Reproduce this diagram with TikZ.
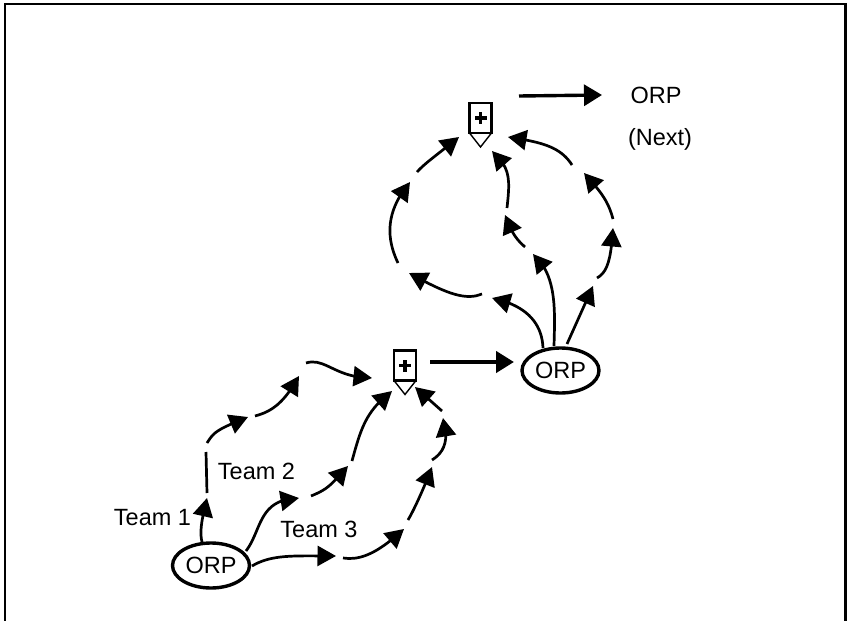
\documentclass[tikz,border=0pt]{standalone}
\usepackage{fontspec}
\setmainfont{Liberation Sans}
\usetikzlibrary{arrows.meta,bending}
\usetikzlibrary{shapes.geometric}
\tikzset{
  x=1pt,y=-1pt,
  flow/.style={line width=2.7pt,line cap=butt,-{Triangle[length=18.5pt,width=20pt]}},
  flowplain/.style={line width=2.7pt},
  bigflow/.style={line cap=butt,-{Triangle[length=18pt,width=21pt]}},
  orp/.style={draw,ellipse,line width=3.4pt,minimum width=77pt,minimum height=45pt,inner sep=0pt,font=\fontsize{23.5}{25}\selectfont},
  lbl/.style={inner sep=0pt,font=\fontsize{23.5}{25}\selectfont},
}
\begin{document}
\begin{tikzpicture}
\useasboundingbox (0,0) rectangle (847,621);
\fill[white] (0,0) rectangle (847,621);
\draw[line width=2.4pt] (5,621) -- (5,4) -- (845.5,4) -- (845.5,621);
% nodes
\node[orp] (orpA) at (211,565.5) {ORP};
\node[orp] (orpB) at (560.5,370.5) {ORP};
\node[lbl] (orpNext) at (656,95) {ORP};
\node[lbl] (nextL) at (660,139) {(Next)};
\node[lbl] (t1) at (152.5,518) {Team 1};
\node[lbl] (t2) at (256.5,471) {Team 2};
\node[lbl] (t3) at (319,529) {Team 3};
% merge symbols
\coordinate (mA) at (405,365.5);
\coordinate (mB) at (480.5,118);
\foreach \m in {mA,mB}{
  \draw[line width=2.6pt] ([shift={(-11,-15)}]\m) rectangle ([shift={(11,15)}]\m);
  \draw[line width=1.4pt] ([shift={(-11,15)}]\m) -- ([shift={(0,29)}]\m) -- ([shift={(11,15)}]\m);
  \fill ([shift={(-6,-1.8)}]\m) rectangle ([shift={(6,1.8)}]\m);
  \fill ([shift={(-1.8,-6)}]\m) rectangle ([shift={(1.8,6)}]\m);
}
% thick arrows
\coordinate (topS) at (519,96);
\coordinate (topE) at (602,95);
\draw[bigflow,line width=3.4pt] (topS) -- (topE);
\coordinate (lowS) at (430,362);
\coordinate (lowE) at (514,362);
\draw[bigflow,line width=4.4pt] (lowS) -- (lowE);
% upper network
\coordinate (a0) at (417,172); \coordinate (a1) at (459,137);
\draw[flow] (a0) .. controls (425,163) and (437,155) .. (a1);
\coordinate (b0) at (398,263); \coordinate (b1) at (410,182);
\draw[flow] (b0) .. controls (387,240) and (384,213) .. (b1);
\coordinate (c0) at (507,208); \coordinate (c1) at (492,151);
\draw[flow] (c0) .. controls (510,180) and (511,168) .. (c1);
\coordinate (d0) at (525,247); \coordinate (d1) at (505,215);
\draw[flow] (d0) .. controls (517,240) and (512,234) .. (d1);
\coordinate (e0) at (572,165); \coordinate (e1) at (508,137);
\draw[flow] (e0) .. controls (560,146) and (540,142) .. (e1);
\coordinate (f0) at (613,219); \coordinate (f1) at (584,173);
\draw[flow] (f0) .. controls (608,200) and (600,191) .. (f1);
\coordinate (g0) at (597,278); \coordinate (g1) at (613,228);
\draw[flow] (g0) .. controls (608,272) and (611,258) .. (g1);
\coordinate (h0) at (567,344); \coordinate (h1) at (593,286);
\draw[flow] (h0) -- (h1);
\coordinate (i0) at (554,346); \coordinate (i1) at (533,254);
\draw[flow] (i0) .. controls (555,310) and (557,275) .. (i1);
\coordinate (j0) at (543,348); \coordinate (j1) at (492,298);
\draw[flow] (j0) .. controls (542,322) and (525,305) .. (j1);
\coordinate (k0) at (482,294); \coordinate (k1) at (409,273);
\draw[flow] (k0) .. controls (465,301) and (445,293) .. (k1);
% lower network
\coordinate (l0) at (442,411); \coordinate (l1) at (415,387);
\draw[flow] (l0) -- (l1);
\coordinate (m0) at (432,460); \coordinate (m1) at (443,418);
\draw[flow] (m0) .. controls (443,453) and (450,442) .. (m1);
\coordinate (n0) at (408,520); \coordinate (n1) at (432,467);
\draw[flow] (n0) .. controls (414,510) and (424,488) .. (n1);
\coordinate (o0) at (343,558); \coordinate (o1) at (404,529);
\draw[flow] (o0) .. controls (362,561) and (380,551) .. (o1);
\coordinate (p0) at (352,461); \coordinate (p1) at (392,391);
\draw[flow] (p0) .. controls (361,428) and (366,411) .. (p1);
\coordinate (q0) at (311,496); \coordinate (q1) at (348,466);
\draw[flow] (q0) .. controls (328,489) and (330,486) .. (q1);
\coordinate (r0) at (246,551); \coordinate (r1) at (299,498);
\draw[flow] (r0) .. controls (262,530) and (258,499) .. (r1);
\coordinate (s0) at (252,566); \coordinate (s1) at (336,556);
\draw[flow] (s0) .. controls (272,554) and (295,556) .. (s1);
\coordinate (t0) at (202,542); \coordinate (t1e) at (207,498);
\draw[flow] (t0) .. controls (199,530) and (203,515) .. (t1e);
\coordinate (u0) at (206,452); \coordinate (u1) at (207,493);
\draw[flowplain] (u0) -- (u1);
\coordinate (v0) at (207,443); \coordinate (v1) at (248,417);
\draw[flow] (v0) .. controls (214,432) and (216,430) .. (v1);
\coordinate (w0) at (255,416); \coordinate (w1) at (299,376);
\draw[flow] (w0) .. controls (270,412) and (283,405) .. (w1);
\coordinate (x0) at (306,363); \coordinate (x1) at (372,378);
\draw[flow] (x0) .. controls (325,357) and (335,378) .. (x1);
\end{tikzpicture}
\end{document}
